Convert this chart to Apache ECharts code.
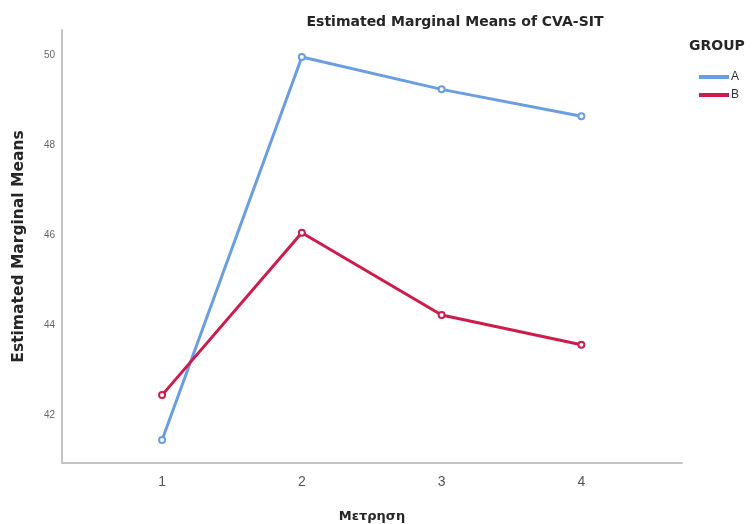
<!DOCTYPE html>
<html>
<head>
<meta charset="utf-8">
<script src="https://cdn.jsdelivr.net/npm/echarts@6/dist/echarts.min.js"></script>
<style>
  html, body { margin: 0; padding: 0; background: #ffffff; }
  #chart { width: 754px; height: 524px; }
</style>
</head>
<body>
<div id="chart"></div>
<script>
// Measurement occasions on the x axis
const measurements = [1, 2, 3, 4];
const measurementLabels = ['1', '2', '3', '4'];
// Estimated marginal means per group
const groupA = [41.44, 49.96, 49.24, 48.64];
const groupB = [42.44, 46.05, 44.22, 43.56];
const groupNames = ['A', 'B'];
// Y axis tick labels
const yTicks = [42, 44, 46, 48, 50];

const colorA = '#6a9ee0';
const colorB = '#cc1c4c';
const font = 'Liberation Sans, Arial, sans-serif';
const boldFont = 'DejaVu Sans, Verdana, sans-serif';

const toPoints = (vals) => measurements.map((m, i) => [m, vals[i]]);

const chart = echarts.init(document.getElementById('chart'), null, { renderer: 'canvas' });

chart.setOption({
  backgroundColor: '#ffffff',
  animation: false,
  title: {
    text: 'Estimated Marginal Means of CVA-SIT',
    left: 450,
    top: 10,
    textAlign: 'center',
    textStyle: { fontFamily: boldFont, fontSize: 14, fontWeight: 'bold', color: '#262626' }
  },
  graphic: [{
    type: 'text',
    left: 689,
    top: 39,
    style: { text: 'GROUP', fontFamily: boldFont, fontSize: 14, fontWeight: 'bold', fill: '#262626' }
  }],
  legend: {
    data: groupNames,
    orient: 'vertical',
    left: 694,
    top: 66,
    itemGap: 6,
    itemWidth: 30,
    itemHeight: 4,
    icon: 'rect',
    textStyle: { fontFamily: font, fontSize: 12, color: '#333333', padding: [0, 0, 0, -3] }
  },
  grid: { left: 62, top: 30, right: 72, bottom: 61, containLabel: false, outerBoundsMode: 'none' },
  xAxis: {
    type: 'value',
    min: 0.284,
    max: 4.72,
    name: 'Μετρηση',
    nameLocation: 'middle',
    nameGap: 47,
    nameTextStyle: { fontFamily: boldFont, fontSize: 13, fontWeight: 'bold', color: '#262626' },
    axisLine: { show: true, lineStyle: { color: '#c4c4c4', width: 2 } },
    axisTick: { show: false },
    splitLine: { show: false },
    axisLabel: {
      customValues: measurements,
      formatter: (v) => measurementLabels[measurements.indexOf(v)],
      margin: 12,
      fontFamily: font,
      fontSize: 14,
      color: '#555555'
    }
  },
  yAxis: {
    type: 'value',
    min: 40.93,
    max: 50.56,
    name: 'Estimated Marginal Means',
    nameLocation: 'middle',
    nameGap: 35,
    nameTextStyle: { fontFamily: boldFont, fontSize: 15.5, fontWeight: 'bold', color: '#262626' },
    axisLine: { show: true, lineStyle: { color: '#c4c4c4', width: 2 } },
    axisTick: { show: false },
    splitLine: { show: false },
    axisLabel: {
      customValues: yTicks,
      margin: 7,
      fontFamily: font,
      fontSize: 10,
      color: '#666666'
    }
  },
  series: [
    {
      name: groupNames[0],
      type: 'line',
      data: toPoints(groupA),
      symbol: 'emptyCircle',
      symbolSize: 6,
      lineStyle: { color: colorA, width: 3 },
      itemStyle: { color: colorA, borderWidth: 1 }
    },
    {
      name: groupNames[1],
      type: 'line',
      data: toPoints(groupB),
      symbol: 'emptyCircle',
      symbolSize: 6,
      lineStyle: { color: colorB, width: 3 },
      itemStyle: { color: colorB, borderWidth: 1 }
    }
  ]
});
</script>
</body>
</html>
